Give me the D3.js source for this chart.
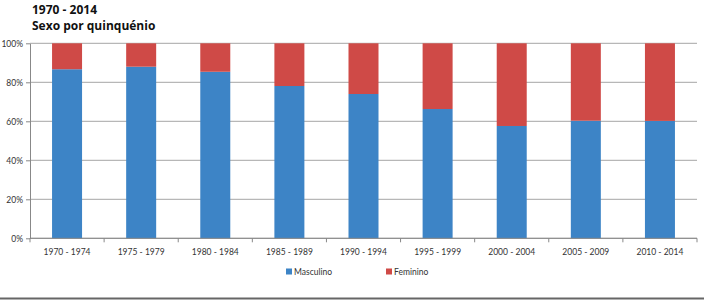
<!DOCTYPE html>
<html><head><meta charset="utf-8">
<script src="https://cdnjs.cloudflare.com/ajax/libs/d3/7.8.5/d3.min.js"></script>
<style>body{margin:0;background:#fff}svg{display:block;font-family:Lato,"Open Sans",sans-serif}</style>
</head><body>
<script>
const categories = ["1970 - 1974","1975 - 1979","1980 - 1984","1985 - 1989","1990 - 1994","1995 - 1999","2000 - 2004","2005 - 2009","2010 - 2014"];
const masculino = [86.7, 88.0, 85.4, 78.1, 74.0, 66.3, 57.6, 60.3, 60.2];
const feminino = masculino.map(v => 100 - v);
const yTicks = [0, 20, 40, 60, 80, 100];
const seriesNames = ["Masculino", "Feminino"];
const colors = ["#3D84C6", "#CF4A47"];

const W = 704, H = 301;
const svg = d3.select("body").append("svg").attr("width", W).attr("height", H);
const m = {l: 30, r: 697, t: 43.3, b: 238.3};

svg.append("text").attr("x", 32).attr("y", 14).attr("font-size", 12).attr("font-weight", "bold").attr("font-family", "'Open Sans',sans-serif").attr("fill", "#111").text("1970 - 2014");
svg.append("text").attr("x", 32).attr("y", 29.5).attr("font-size", 12).attr("font-weight", "bold").attr("font-family", "'Open Sans',sans-serif").attr("fill", "#111").text("Sexo por quinquénio");

const x = d3.scaleBand().domain(categories).range([m.l, m.r]).paddingInner(0).paddingOuter(0);
const y = d3.scaleLinear().domain([0, 100]).range([m.b, m.t]);

// gridlines
svg.append("g").selectAll("line").data(yTicks).join("line")
  .attr("x1", m.l).attr("x2", m.r).attr("y1", d => y(d)).attr("y2", d => y(d))
  .attr("stroke", "#a6a6a6").attr("stroke-width", 1);

const data = categories.map((c, i) => ({c, m: masculino[i], f: feminino[i]}));
const stack = d3.stack().keys(["m", "f"])(data);
const barW = 30;
svg.append("g").selectAll("g").data(stack).join("g")
  .attr("fill", (d, i) => colors[i])
  .selectAll("rect").data(d => d).join("rect")
  .attr("x", d => x(d.data.c) + x.bandwidth() / 2 - barW / 2)
  .attr("width", barW)
  .attr("y", d => y(d[1]))
  .attr("height", d => y(d[0]) - y(d[1]));

// y axis
const ya = svg.append("g").attr("transform", `translate(${m.l},0)`)
  .call(d3.axisLeft(y).tickValues(yTicks).tickFormat(d => d + "%").tickSize(4).tickSizeOuter(0));
ya.select(".domain").attr("stroke", "#888");
ya.selectAll(".tick line").attr("stroke", "#888");
ya.selectAll("text").attr("font-size", 8.5).attr("fill", "#333").attr("font-family", "Lato,'Open Sans',sans-serif").attr("x", -7);

// x axis
const xa = svg.append("g").attr("transform", `translate(0,${m.b})`);
xa.append("line").attr("x1", m.l).attr("x2", m.r).attr("stroke", "#888");
const bounds = categories.map(c => x(c)).concat([m.r]);
xa.selectAll(".tk").data(bounds).join("line").attr("class", "tk")
  .attr("x1", d => d).attr("x2", d => d).attr("y1", 0).attr("y2", 4).attr("stroke", "#888");
xa.selectAll("text").data(categories).join("text")
  .attr("x", d => x(d) + x.bandwidth() / 2).attr("y", 17)
  .attr("text-anchor", "middle").attr("font-size", 8.5).attr("fill", "#333").text(d => d);

// legend
const lx = [286, 386];
const lg = svg.append("g").selectAll("g").data(seriesNames).join("g")
  .attr("transform", (d, i) => `translate(${lx[i]},272)`);
lg.append("rect").attr("x", 0).attr("y", -3.5).attr("width", 6).attr("height", 6).attr("fill", (d, i) => colors[i]);
lg.append("text").attr("x", 8).attr("y", 3).attr("font-size", 8.5).attr("fill", "#333").text(d => d);

// bottom rule
svg.append("line").attr("x1", 0).attr("x2", W).attr("y1", 298.5).attr("y2", 298.5).attr("stroke", "#666").attr("stroke-width", 2);
</script>
</body></html>
